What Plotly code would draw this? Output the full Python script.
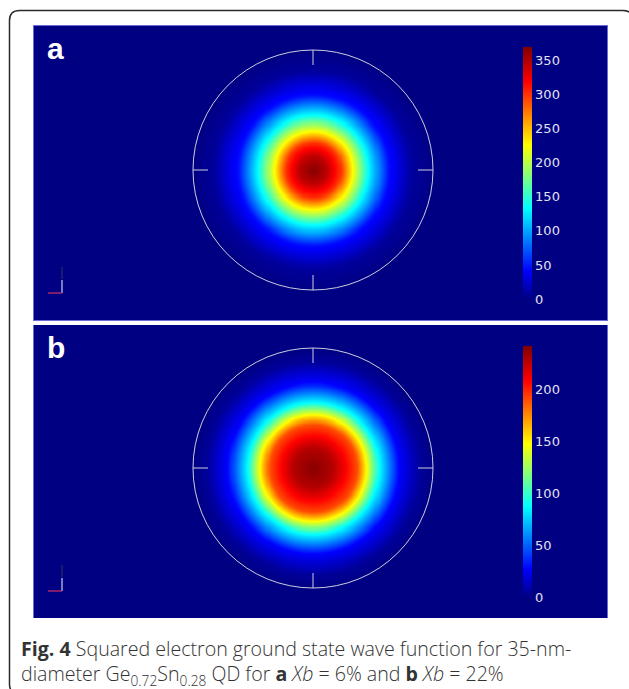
import numpy as np
import plotly.graph_objects as go

W, H = 629, 689

# ---- data ----
# radial profile of squared ground-state wave function (radius in nm, value)
r_a_nm = [0.0, 2.0, 4.0, 5.5, 8.0, 11.0, 14.5, 17.5]
psi2_a = [368, 345, 300, 235, 135, 45, 8, 0]
r_b_nm = [0.0, 2.9, 6.4, 7.7, 9.6, 12.5, 15.5, 17.5]
psi2_b = [240, 228, 190, 150, 87, 27, 5, 0]
cbar_max_a = 370
cbar_max_b = 242
ticks_a = [0, 50, 100, 150, 200, 250, 300, 350]
ticks_b = [0, 50, 100, 150, 200]
qd_radius_nm = 17.5
panel_labels = ["a", "b"]
caption_1 = "<b>Fig. 4</b> Squared electron ground state wave function for 35-nm-"
caption_2 = ("diameter Ge<sub>0.72</sub>Sn<sub>0.28</sub> QD for <b>a</b> <i>Xb</i>"
             " = 6% and <b>b</b> <i>Xb</i> = 22%")

# ---- layout geometry (pixels) ----
PX_PER_NM = 120 / qd_radius_nm
PANEL_X0, PANEL_X1 = 34, 607
PANELS_Y = [(26, 320), (325, 618)]
CENTER_X = 313
CENTERS_Y = [170, 468]

JET = [[0.0, "rgb(0,0,131)"], [0.11, "rgb(0,0,255)"], [0.36, "rgb(0,255,255)"],
       [0.61, "rgb(255,255,0)"], [0.86, "rgb(255,0,0)"], [1.0, "rgb(128,0,0)"]]

def px(x):
    return x / W

def py(y):
    return 1 - y / H

x_lo = -(CENTER_X - PANEL_X0) / PX_PER_NM
x_hi = (PANEL_X1 - CENTER_X) / PX_PER_NM

fig = go.Figure()
profiles = [(r_a_nm, psi2_a, cbar_max_a, ticks_a), (r_b_nm, psi2_b, cbar_max_b, ticks_b)]
shapes = []
annotations = []
for i, ((r_nm, vals, cmax, tks), (y0p, y1p), cy) in enumerate(zip(profiles, PANELS_Y, CENTERS_Y)):
    sfx = "" if i == 0 else str(i + 1)
    y_hi = (cy - y0p) / PX_PER_NM
    y_lo = -(y1p - cy) / PX_PER_NM
    xs = np.arange(x_lo - 0.3, x_hi + 0.3, 0.3)
    ys = np.arange(y_lo - 0.3, y_hi + 0.3, 0.3)
    XX, YY = np.meshgrid(xs, ys)
    RR = np.sqrt(XX ** 2 + YY ** 2)
    Z = np.interp(RR, r_nm, vals, right=0.0)
    Z = np.round(Z, 1)
    cb_top = y0p + 21
    cb_bot = y1p - 21
    fig.add_trace(go.Heatmap(
        x=np.round(xs, 2), y=np.round(ys, 2), z=Z, colorscale=JET, zmin=0, zmax=cmax,
        zsmooth="best", xaxis="x" + sfx, yaxis="y" + sfx, hoverinfo="skip",
        colorbar=dict(thickness=9, thicknessmode="pixels", len=cb_bot - cb_top,
                      lenmode="pixels", x=px(523), xanchor="left",
                      y=py((cb_top + cb_bot) / 2), yanchor="middle",
                      xpad=0, ypad=0, outlinewidth=0, ticks="",
                      tickmode="array", tickvals=tks, ticktext=[str(t) for t in tks],
                      tickfont=dict(family="DejaVu Sans", size=13, color="#e2e2f0"),
                      bgcolor="rgba(0,0,0,0)")))
    ax = dict(domain=[px(PANEL_X0), px(PANEL_X1)], range=[x_lo, x_hi], showgrid=False,
              zeroline=False, showticklabels=False, ticks="", showline=True, mirror=True,
              linecolor="#6a6ad8", linewidth=1, fixedrange=True)
    ay = dict(domain=[py(y1p), py(y0p)], range=[y_lo, y_hi], showgrid=False,
              zeroline=False, showticklabels=False, ticks="", showline=True, mirror=True,
              linecolor="#6a6ad8", linewidth=1, fixedrange=True)
    fig.update_layout(**{"xaxis" + sfx: ax, "yaxis" + sfx: ay})
    xr, yr = "x" + sfx, "y" + sfx
    R = qd_radius_nm
    tick = 15 / PX_PER_NM
    lc = "rgba(215,215,230,0.95)"
    shapes.append(dict(type="circle", xref=xr, yref=yr, x0=-R, x1=R, y0=-R, y1=R,
                       line=dict(color=lc, width=1)))
    for (a0, b0, a1, b1) in [(0, R, 0, R - tick), (0, -R, 0, -R + tick),
                             (-R, 0, -R + tick, 0), (R, 0, R - tick, 0)]:
        shapes.append(dict(type="line", xref=xr, yref=yr, x0=a0, y0=b0, x1=a1, y1=b1,
                           line=dict(color=lc, width=1)))
    # small axis triad at lower left
    tx, tb = 62, y1p - 27
    shapes.append(dict(type="line", xref="paper", yref="paper", x0=px(tx), x1=px(tx),
                       y0=py(tb), y1=py(tb - 13), line=dict(color="#c8d0f0", width=1.2)))
    shapes.append(dict(type="line", xref="paper", yref="paper", x0=px(tx), x1=px(tx),
                       y0=py(tb - 14), y1=py(tb - 26), line=dict(color="#1a1a70", width=2)))
    shapes.append(dict(type="line", xref="paper", yref="paper", x0=px(48), x1=px(tx),
                       y0=py(tb), y1=py(tb), line=dict(color="#d03060", width=1.2)))
    annotations.append(dict(text="<b>%s</b>" % panel_labels[i], xref="paper", yref="paper",
                            x=px(45), y=py(y0p + 22), xanchor="left", yanchor="middle",
                            showarrow=False,
                            font=dict(family="Liberation Sans", size=30, color="white")))

# outer rounded frame (right and bottom sides run off the image)
L, T, Rr, B, rad = 9.5, 10.5, 633, 694, 10
path = ("M %f,%f L %f,%f Q %f,%f %f,%f L %f,%f Q %f,%f %f,%f L %f,%f Q %f,%f %f,%f "
        "L %f,%f Q %f,%f %f,%f Z") % (
    px(L + rad), py(T), px(Rr - rad), py(T), px(Rr), py(T), px(Rr), py(T + rad),
    px(Rr), py(B - rad), px(Rr), py(B), px(Rr - rad), py(B),
    px(L + rad), py(B), px(L), py(B), px(L), py(B - rad),
    px(L), py(T + rad), px(L), py(T), px(L + rad), py(T))
shapes.append(dict(type="path", xref="paper", yref="paper", path=path,
                   line=dict(color="#2a2a2a", width=1.5)))

annotations.append(dict(text=caption_1 + "<br>" + caption_2, xref="paper", yref="paper",
                        x=px(19), y=py(662), xanchor="left", yanchor="middle",
                        align="left", showarrow=False,
                        font=dict(family="Open Sans", size=19.6, color="#333333",
                                  weight=300)))

fig.update_layout(width=W, height=H, margin=dict(l=0, r=0, t=0, b=0),
                  paper_bgcolor="white", plot_bgcolor="rgb(0,0,131)",
                  shapes=shapes, annotations=annotations, showlegend=False)

fig.write_html("out.html", config={"displayModeBar": False},
               post_script="document.body.style.margin='0px';document.body.style.overflow='hidden';")
